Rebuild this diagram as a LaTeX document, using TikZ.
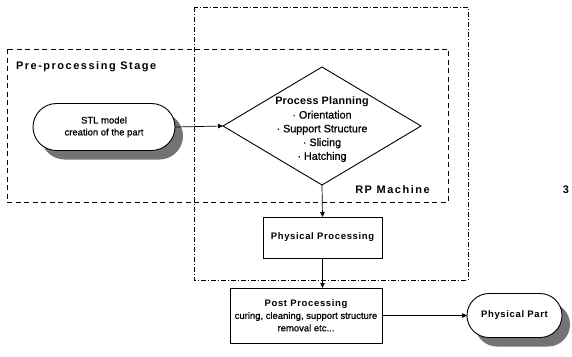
\documentclass[tikz,border=0pt]{standalone}
\usepackage{fontspec}
\setmainfont{Liberation Sans}
\newfontfamily\bodyfont{Liberation Sans}[FakeBold=0.8]
\newfontfamily\titlefont{Liberation Sans Bold}[LetterSpace=14]
\newfontfamily\headfont{Liberation Sans Bold}[LetterSpace=7]
\newfontfamily\planfont{Liberation Sans Bold}[LetterSpace=2]
\usetikzlibrary{shapes.geometric,shapes.misc,shadows,arrows.meta}

\begin{document}
\begin{tikzpicture}[x=1bp,y=-1bp,
  every node/.style={inner sep=0pt, outer sep=0pt},
  boxline/.style={draw=black, line width=0.9bp},
  endcap/.style={boxline, rounded rectangle, fill=white, align=center,
    drop shadow={shadow xshift=8bp, shadow yshift=-9bp, fill=black!55, opacity=1}},
  procbox/.style={boxline, rectangle, fill=white, align=center},
  flow/.style={-{Triangle[length=5bp,width=4.5bp]}, line width=0.7bp},
  stagebox/.style={draw, line width=0.9bp, dash pattern=on 5bp off 3.5bp},
  machinebox/.style={draw, line width=0.8bp, dash pattern=on 5bp off 2bp on 1bp off 2bp},
  title/.style={font=\titlefont\fontsize{11}{13}\selectfont},
  head/.style={font=\headfont\fontsize{9.5}{11}\selectfont},
  body/.style={font=\bodyfont\fontsize{9.5}{12}\selectfont},
]
\useasboundingbox (0,0) rectangle (572,356);

% stage frames
\draw[machinebox] (194,7) rectangle (468,280);
\draw[stagebox] (7,49) rectangle (448,202);
\node[title, anchor=west] (stagelabel) at (16,67) {Pre-processing Stage};
\node[title] (rplabel) at (392.5,190) {RP Machine};

% flow elements
\node[endcap, body, minimum width=142bp, minimum height=47bp] (stl) at (104,127)
  {STL model\\creation of the part};
\node[draw, diamond, line width=0.9bp, minimum width=198bp, minimum height=118bp] (plan) at (322,126) {};
\node[align=center, font=\bodyfont\fontsize{10.8}{13.8}\selectfont] (plantext) at (322,129.5)
  {{\planfont Process Planning}\\ · Orientation\\ · Support Structure\\ · Slicing\\ · Hatching};
\node[procbox, head, minimum width=119bp, minimum height=41bp] (phys) at (322.5,237.5) {Physical Processing};
\node[procbox, minimum width=152bp, minimum height=55bp, font=\bodyfont\fontsize{9.5}{12.5}\selectfont] (post) at (306,315.5)
  {{\headfont Post Processing}\\curing, cleaning, support structure\\removal etc...};
\node[endcap, head, minimum width=95bp, minimum height=44bp] (part) at (514.5,315.5) {Physical Part};

\node[title] (pagenum) at (566,190) {3};

% connectors
\draw[flow] (stl.east) -- (plan.west);
\draw[flow] (plan.south) -- (phys.north);
\draw[flow] (phys.south) -- (phys.south |- post.north);
\draw[flow] (post.east) -- (part.west);
\end{tikzpicture}
\end{document}
